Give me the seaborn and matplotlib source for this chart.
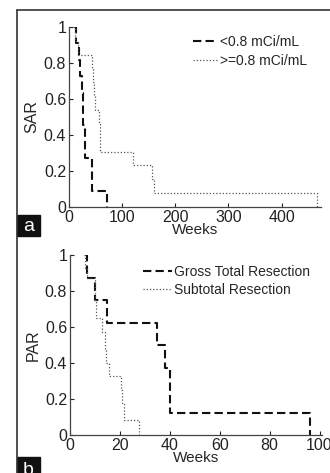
import matplotlib
matplotlib.use("Agg")
import matplotlib.pyplot as plt
from matplotlib.lines import Line2D
from matplotlib.patches import Rectangle
import seaborn as sns

# panel a: survival after radiation, by dose
a_low_weeks = [9, 13, 19, 21, 24, 26, 27, 30, 43, 71]
a_low_sar = [1, 0.909, 0.818, 0.727, 0.636, 0.545, 0.455, 0.273, 0.091, 0]
a_high_weeks = [8, 12, 17, 43, 45, 47, 49, 57, 58, 59, 121, 156, 159, 466]
a_high_sar = [1, 0.923, 0.846, 0.769, 0.692, 0.615, 0.538, 0.462, 0.385, 0.308,
              0.231, 0.154, 0.077, 0]
a_labels = ['<0.8 mCi/mL', '>=0.8 mCi/mL']
a_xticks = [0, 100, 200, 300, 400]

# panel b: by extent of resection
b_gross_weeks = [6, 7, 10, 15, 35, 38, 40, 96]
b_gross_par = [1, 0.875, 0.75, 0.625, 0.5, 0.375, 0.125, 0]
b_sub_weeks = [5.5, 6, 6.7, 10, 10.5, 13, 14, 14.5, 15.5, 20.5, 21, 21.7, 27.5]
b_sub_par = [1, 0.93, 0.87, 0.75, 0.65, 0.57, 0.48, 0.4, 0.33, 0.25, 0.17, 0.083, 0]
b_labels = ['Gross Total Resection', 'Subtotal Resection']
b_xticks = [0, 20, 40, 60, 80, 100]

y_ticks = [0, 0.2, 0.4, 0.6, 0.8, 1]
y_ticklabels = ['0', '0.2', '0.4', '0.6', '0.8', '1']

sns.set_style("ticks")
plt.rcParams['font.family'] = ['Liberation Sans', 'DejaVu Sans']
plt.rcParams['xtick.direction'] = 'in'
plt.rcParams['ytick.direction'] = 'in'

W, H = 330, 473
fig = plt.figure(figsize=(W / 100, H / 100), dpi=100)

dash_kw = dict(color='#111111', linewidth=1.5, linestyle=(0, (4, 2)))
dot_kw = dict(color='#555555', linewidth=0.9, linestyle=(0, (1, 1.6)))


def fx(px):
    return px / W


def fy(py):
    return 1 - py / H


def style_axes(ax, xlim, xticks, ylabel):
    ax.set_xlim(*xlim)
    ax.set_ylim(0, 1)
    ax.set_xticks(xticks)
    ax.set_xticklabels([str(t) for t in xticks], fontsize=11.5)
    ax.set_yticks(y_ticks)
    ax.set_yticklabels(y_ticklabels, fontsize=11.5)
    ax.tick_params(length=3, width=0.8, colors='#222222', pad=2)
    ax.set_xlabel('Weeks', fontsize=11, labelpad=-1)
    ax.set_ylabel(ylabel, fontsize=11.5, labelpad=3)
    sns.despine(ax=ax)
    for s in ['left', 'bottom']:
        ax.spines[s].set_color('#444444')
        ax.spines[s].set_linewidth(0.9)


# panel a
ax1 = fig.add_axes([fx(69), fy(207), fx(321 - 69), (207 - 27) / H])
sns.lineplot(x=a_low_weeks, y=a_low_sar, ax=ax1, drawstyle='steps-post',
             estimator=None, label=a_labels[0], **dash_kw)
sns.lineplot(x=a_high_weeks, y=a_high_sar, ax=ax1, drawstyle='steps-post',
             estimator=None, label=a_labels[1], **dot_kw)
style_axes(ax1, (0, 474), a_xticks, 'SAR')
ax1.legend(loc='upper left', bbox_to_anchor=(0.492, 0.955), frameon=False,
           fontsize=10, borderpad=0, borderaxespad=0, handlelength=1.8,
           handletextpad=0.15, labelspacing=0.35)

# panel b
ax2 = fig.add_axes([fx(70), fy(435), fx(322 - 70), (435 - 255) / H])
sns.lineplot(x=b_gross_weeks, y=b_gross_par, ax=ax2, drawstyle='steps-post',
             estimator=None, label=b_labels[0], **dash_kw)
sns.lineplot(x=b_sub_weeks, y=b_sub_par, ax=ax2, drawstyle='steps-post',
             estimator=None, label=b_labels[1], **dot_kw)
style_axes(ax2, (0, 101), b_xticks, 'PAR')
ax2.legend(loc='upper left', bbox_to_anchor=(0.29, 0.945), frameon=False,
           fontsize=10, borderpad=0, borderaxespad=0, handlelength=2.1,
           handletextpad=0.1, labelspacing=0.3)

# outer frame lines
fig.add_artist(Line2D([fx(17), 1], [fy(10), fy(10)], color='#333333', lw=1.2))
fig.add_artist(Line2D([fx(17), fx(17)], [fy(10), 0], color='#333333', lw=1.2))

# panel letters
for y0, y1, letter, ty in [(215, 236, 'a', 226), (457, 480, 'b', 470)]:
    fig.add_artist(Rectangle((fx(17), fy(y1)), fx(23), (y1 - y0) / H,
                             color='#111111', transform=fig.transFigure))
    fig.text(fx(28.5), fy(ty), letter, color='white', fontsize=14,
             ha='center', va='center')

fig.savefig('out.png', dpi=100)
